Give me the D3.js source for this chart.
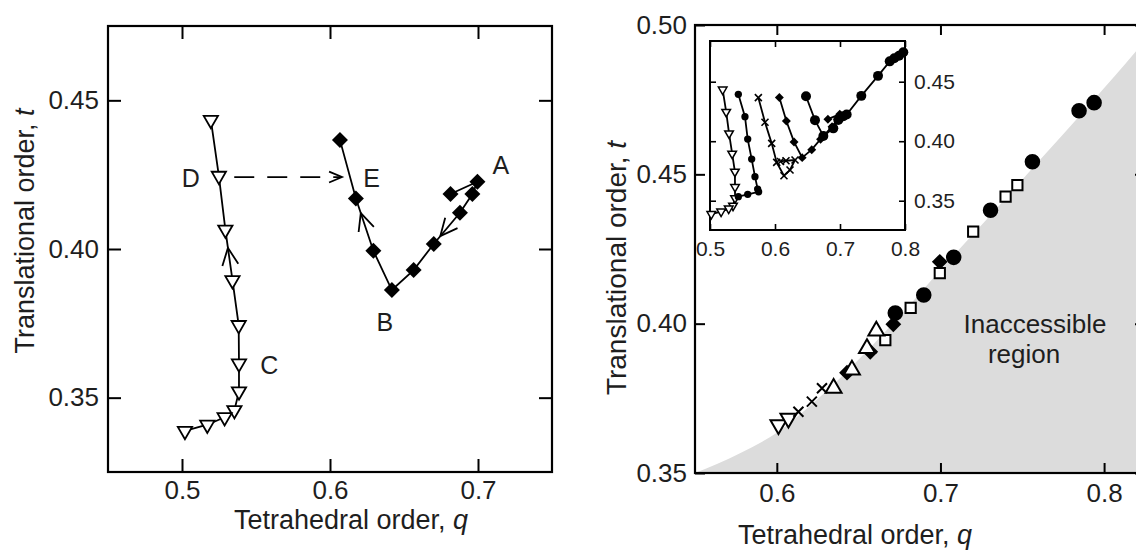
<!DOCTYPE html>
<html>
<head>
<meta charset="utf-8">
<script src="https://cdn.jsdelivr.net/npm/d3@7"></script>
<style>
  body { margin: 0; background: #fff; }
  svg { display: block; }
</style>
</head>
<body>
<svg id="chart" width="1136" height="552"></svg>
<script>
// ---- left panel: D -> C path (open triangles), E <- B <- A path (diamonds)
const triQ = [0.5195, 0.5249, 0.5293, 0.5341, 0.5383, 0.5385, 0.5385, 0.5354, 0.5288, 0.5171, 0.5020];
const triT = [0.4434, 0.4246, 0.4065, 0.3895, 0.3744, 0.3615, 0.3521, 0.3458, 0.3434, 0.3409, 0.3388];
const diaQ = [0.6067, 0.6175, 0.6293, 0.6418, 0.6565, 0.6701, 0.6878, 0.6962, 0.6996, 0.6814];
const diaT = [0.4367, 0.4170, 0.3994, 0.3862, 0.3929, 0.4017, 0.4122, 0.4185, 0.4226, 0.4185];

const leftQTicks = [0.5, 0.6, 0.7];
const leftTTicks = [0.35, 0.40, 0.45];

const letterText = ["A", "B", "C", "D", "E"];
const letterQ = [0.7154, 0.6371, 0.5590, 0.5060, 0.6281];
const letterT = [0.4283, 0.3756, 0.3611, 0.4240, 0.4240];

const dashQ = [0.5353, 0.6081];
const dashT = [0.4242, 0.4242];

// arrows on the paths: which series, segment from -> to, fraction along it
const arrowSeries = ["tri", "dia", "dia"];
const arrowFrom = [3, 2, 6];
const arrowTo = [2, 1, 5];
const arrowFrac = [0.64, 0.72, 0.75];

// ---- right panel: state points on the edge of the inaccessible region
const mDownTriQ = [0.6010, 0.6071];
const mDownTriT = [0.3661, 0.3683];
const mCrossQ = [0.6132, 0.6214, 0.6276];
const mCrossT = [0.3705, 0.3739, 0.3784];
const mUpTriQ = [0.6347, 0.6459, 0.6551, 0.6608];
const mUpTriT = [0.3784, 0.3845, 0.3917, 0.3976];
const mDiaQ = [0.6429, 0.6571, 0.6712, 0.6996];
const mDiaT = [0.3836, 0.3906, 0.3998, 0.4207];
const mCircQ = [0.6724, 0.6898, 0.7081, 0.7306, 0.7562, 0.7847, 0.7939];
const mCircT = [0.4036, 0.4096, 0.4222, 0.4380, 0.4542, 0.4713, 0.4740];
const mSqQ = [0.6663, 0.6818, 0.6996, 0.7200, 0.7398, 0.7470];
const mSqT = [0.3945, 0.4053, 0.4169, 0.4308, 0.4425, 0.4464];

const boundQ = [0.55, 0.5775, 0.60, 0.6265, 0.65, 0.675, 0.70, 0.72, 0.7325, 0.757, 0.793, 0.82, 0.835];
const boundT = [0.350, 0.3566, 0.3635, 0.3755, 0.388, 0.4025, 0.418, 0.430, 0.4375, 0.4525, 0.4745, 0.4915, 0.5015];

const mainQTicks = [0.6, 0.7, 0.8];
const mainTTicks = [0.35, 0.40, 0.45, 0.50];

// ---- inset isochores (triangles and diamonds reuse the left-panel paths)
const iDotQ = [0.5436, 0.5538, 0.5580, 0.5641, 0.5692, 0.5733, 0.5748, 0.5580, 0.5436];
const iDotT = [0.4394, 0.4206, 0.4018, 0.3850, 0.3702, 0.3598, 0.3575, 0.3554, 0.3534];
const iCrossQ = [0.5744, 0.5846, 0.5949, 0.6026, 0.6138, 0.6231, 0.6308, 0.6169, 0.6085];
const iCrossT = [0.4366, 0.4159, 0.3982, 0.3822, 0.3710, 0.3758, 0.3842, 0.3836, 0.3830];
const iCircQ = [0.6477, 0.6615, 0.6744, 0.6897, 0.6974, 0.7051, 0.7103, 0.7328, 0.7585, 0.7765, 0.7835, 0.7908, 0.7974];
const iCircT = [0.4378, 0.4177, 0.4044, 0.4108, 0.4178, 0.4209, 0.4225, 0.4381, 0.4549, 0.4671, 0.4697, 0.4718, 0.4747];

const insetQTicks = [0.5, 0.6, 0.7, 0.8];
const insetTTicks = [0.35, 0.40, 0.45];

const FONT = '"Liberation Sans", Arial, Helvetica, sans-serif';
const INK = "#1e1e1e";

const svg = d3.select("#chart");
svg.append("rect").attr("width", 1136).attr("height", 552).attr("fill", "#fff");

function addAxis(g, gen, tx, ty, cfg) {
    const a = g.append("g")
        .attr("transform", `translate(${tx},${ty})`)
        .call(gen);
    a.select(".domain").remove();
    a.selectAll("line").attr("stroke", "#000").attr("stroke-width", cfg.tw);
    a.attr("font-family", FONT).attr("font-size", cfg.fs);
    a.selectAll("text").attr("fill", INK);
    return a;
}

function panelAxes(g, x, y, cfg) {
    const [x0, x1] = x.range();
    const [y0, y1] = y.range();
    const none = () => "";
    addAxis(g, d3.axisBottom(x).tickValues(cfg.xt).tickSize(-cfg.len).tickPadding(cfg.xpad)
        .tickFormat(d3.format(".1f")), 0, y0, cfg);
    addAxis(g, d3.axisTop(x).tickValues(cfg.xt).tickSize(-cfg.len).tickFormat(none), 0, y1, cfg);
    addAxis(g, d3.axisLeft(y).tickValues(cfg.yt).tickSize(-cfg.len).tickPadding(cfg.ypad)
        .tickFormat(cfg.ySide === "left" ? d3.format(".2f") : none), x0, 0, cfg);
    addAxis(g, d3.axisRight(y).tickValues(cfg.yt).tickSize(-cfg.len).tickPadding(cfg.ypad)
        .tickFormat(cfg.ySide === "right" ? d3.format(".2f") : none), x1, 0, cfg);
    g.append("rect")
        .attr("x", x0).attr("y", y1)
        .attr("width", x1 - x0).attr("height", y0 - y1)
        .attr("fill", "none").attr("stroke", "#000").attr("stroke-width", cfg.fw);
}

function crossPath(r) {
    return `M${-r},${-r}L${r},${r}M${-r},${r}L${r},${-r}`;
}

// kind: triDown, triUp, diamond, circle, square, cross
function marks(g, x, y, qs, ts, kind, size, sw) {
    const pts = d3.zip(qs, ts);
    const sel = g.append("g").selectAll("path").data(pts).join("path")
        .attr("transform", d => {
            let rot = 0;
            if (kind === "triDown") rot = 180;
            if (kind === "diamond") rot = 45;
            return `translate(${x(d[0])},${y(d[1])}) rotate(${rot})`;
        });
    if (kind === "cross") {
        sel.attr("d", crossPath(size)).attr("fill", "none")
            .attr("stroke", "#000").attr("stroke-width", sw);
        return;
    }
    const type = {
        triDown: d3.symbolTriangle, triUp: d3.symbolTriangle,
        diamond: d3.symbolSquare, circle: d3.symbolCircle, square: d3.symbolSquare
    }[kind];
    const open = kind === "triDown" || kind === "triUp" || kind === "square";
    sel.attr("d", d3.symbol().type(type).size(size)())
        .attr("fill", open ? "#fff" : "#000")
        .attr("stroke", open ? "#000" : "none")
        .attr("stroke-width", sw)
        .attr("stroke-linejoin", "miter");
}

function pathLine(g, x, y, qs, ts, sw, dash) {
    const line = d3.line().x(d => x(d[0])).y(d => y(d[1]));
    const p = g.append("path")
        .attr("d", line(d3.zip(qs, ts)))
        .attr("fill", "none").attr("stroke", "#000").attr("stroke-width", sw);
    if (dash) p.attr("stroke-dasharray", dash);
    return p;
}

function chevron(g, p0, p1, frac, len, ang, sw) {
    const ax = p0[0] + (p1[0] - p0[0]) * frac;
    const ay = p0[1] + (p1[1] - p0[1]) * frac;
    const n = Math.hypot(p1[0] - p0[0], p1[1] - p0[1]);
    const ux = (p1[0] - p0[0]) / n, uy = (p1[1] - p0[1]) / n;
    const c = Math.cos(ang * Math.PI / 180), s = Math.sin(ang * Math.PI / 180);
    const b1 = [ax - len * (ux * c - uy * s), ay - len * (uy * c + ux * s)];
    const b2 = [ax - len * (ux * c + uy * s), ay - len * (uy * c - ux * s)];
    g.append("path")
        .attr("d", `M${b1}L${ax},${ay}L${b2}`)
        .attr("fill", "none").attr("stroke", "#000").attr("stroke-width", sw);
}

function title(g, x, y, rot, txt, ital, fs) {
    const t = g.append("text")
        .attr("transform", `translate(${x},${y}) rotate(${rot})`)
        .attr("text-anchor", "middle")
        .attr("font-family", FONT).attr("font-size", fs).attr("fill", INK);
    t.append("tspan").text(txt);
    t.append("tspan").attr("font-style", "italic").text(ital);
}

// ================= left panel =================
const xL = d3.scaleLinear([0.45, 0.75], [108, 552]);
const yL = d3.scaleLinear([0.325, 0.475], [472, 26]);
const gL = svg.append("g");

panelAxes(gL, xL, yL, {xt: leftQTicks, yt: leftTTicks, len: 13, xpad: 9, ypad: 9,
    fs: 26, tw: 2, fw: 2.2, ySide: "left"});

pathLine(gL, xL, yL, dashQ, dashT, 1.8, "20,13");
const dEnd = [xL(dashQ[1]), yL(dashT[1])];
chevron(gL, [xL(dashQ[0]), yL(dashT[0])], dEnd, 1, 14, 23, 1.8);

pathLine(gL, xL, yL, triQ, triT, 1.8);
pathLine(gL, xL, yL, diaQ, diaT, 1.8);

arrowSeries.forEach((s, i) => {
    const qs = s === "tri" ? triQ : diaQ;
    const ts = s === "tri" ? triT : diaT;
    const p0 = [xL(qs[arrowFrom[i]]), yL(ts[arrowFrom[i]])];
    const p1 = [xL(qs[arrowTo[i]]), yL(ts[arrowTo[i]])];
    chevron(gL, p0, p1, arrowFrac[i], 19, 25, 1.8);
});

marks(gL, xL, yL, triQ, triT, "triDown", 88, 1.8);
marks(gL, xL, yL, diaQ, diaT, "diamond", 128, 0);

gL.append("g").selectAll("text").data(letterText).join("text")
    .attr("x", (d, i) => xL(letterQ[i]))
    .attr("y", (d, i) => yL(letterT[i]))
    .attr("dy", "0.36em")
    .attr("text-anchor", "middle")
    .attr("font-family", FONT).attr("font-size", 25).attr("fill", INK)
    .text(d => d);

title(gL, 34, 231, -90, "Translational order, ", "t", 27);
title(gL, 351, 529, 0, "Tetrahedral order, ", "q", 27);

// ================= right panel =================
const xR = d3.scaleLinear([0.55, 0.825], [695, 1145]);
const yR = d3.scaleLinear([0.35, 0.50], [473, 25]);
const gR = svg.append("g");

gR.append("clipPath").attr("id", "mainClip")
    .append("rect").attr("x", 695).attr("y", 25).attr("width", 450).attr("height", 448);

const bLine = d3.line().x(d => xR(d[0])).y(d => yR(d[1])).curve(d3.curveMonotoneX);
const bPts = d3.zip(boundQ, boundT);
gR.append("path")
    .attr("clip-path", "url(#mainClip)")
    .attr("d", bLine(bPts) + `L${xR(0.9)},${yR(0.51)}L${xR(0.9)},${yR(0.35)}Z`)
    .attr("fill", "#dcdcdc");

panelAxes(gR, xR, yR, {xt: mainQTicks, yt: mainTTicks, len: 10, xpad: 11, ypad: 8,
    fs: 26, tw: 2, fw: 2.2, ySide: "left"});

gR.append("text").attr("x", xR(0.7578)).attr("y", yR(0.3969))
    .attr("text-anchor", "middle").attr("font-family", FONT).attr("font-size", 26).attr("fill", INK)
    .text("Inaccessible");
gR.append("text").attr("x", xR(0.7511)).attr("y", yR(0.3868))
    .attr("text-anchor", "middle").attr("font-family", FONT).attr("font-size", 26).attr("fill", INK)
    .text("region");

marks(gR, xR, yR, mDiaQ, mDiaT, "diamond", 125, 0);
marks(gR, xR, yR, mCircQ, mCircT, "circle", 190, 0);
marks(gR, xR, yR, mSqQ, mSqT, "square", 105, 2);
marks(gR, xR, yR, mUpTriQ, mUpTriT, "triUp", 110, 2);
marks(gR, xR, yR, mDownTriQ, mDownTriT, "triDown", 110, 2);
marks(gR, xR, yR, mCrossQ, mCrossT, "cross", 5, 2);

title(gR, 626, 268, -90, "Translational order, ", "t", 28);
title(gR, 855, 544, 0, "Tetrahedral order, ", "q", 27);

// ================= inset =================
const xI = d3.scaleLinear([0.5, 0.8], [710, 905]);
const yI = d3.scaleLinear([0.3254, 0.4842], [230, 41]);
const gI = svg.append("g");

gI.append("rect").attr("x", 710).attr("y", 41).attr("width", 195).attr("height", 189).attr("fill", "#fff");
panelAxes(gI, xI, yI, {xt: insetQTicks, yt: insetTTicks, len: 6, xpad: 11, ypad: 9,
    fs: 21, tw: 1.6, fw: 2, ySide: "right"});

pathLine(gI, xI, yI, triQ, triT, 1.8);
pathLine(gI, xI, yI, iDotQ, iDotT, 1.8);
pathLine(gI, xI, yI, iCrossQ, iCrossT, 1.8);
pathLine(gI, xI, yI, diaQ, diaT, 1.8);
pathLine(gI, xI, yI, iCircQ, iCircT, 1.8);

marks(gI, xI, yI, triQ, triT, "triDown", 32, 1.5);
marks(gI, xI, yI, iDotQ, iDotT, "circle", 42, 0);
marks(gI, xI, yI, iCrossQ, iCrossT, "cross", 3.5, 1.6);
marks(gI, xI, yI, diaQ, diaT, "diamond", 40, 0);
marks(gI, xI, yI, iCircQ, iCircT, "circle", 78, 0);
</script>
</body>
</html>
